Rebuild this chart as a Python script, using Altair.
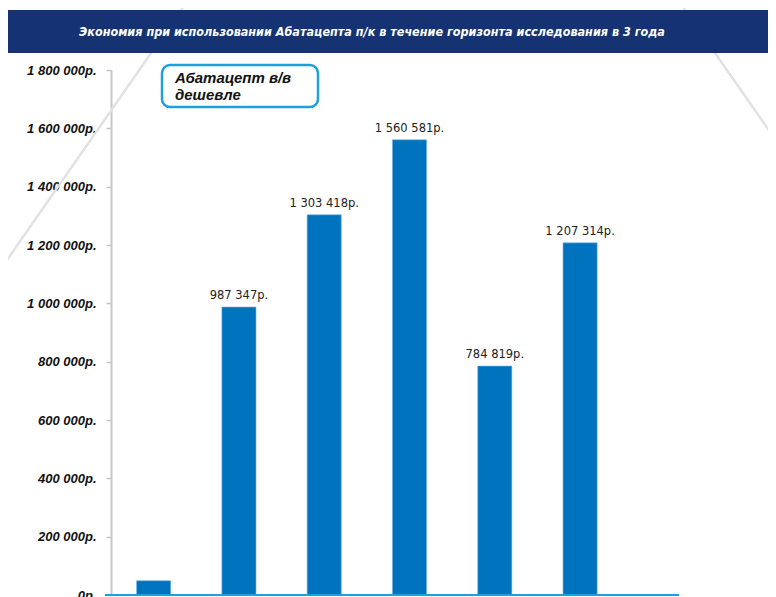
import altair as alt
import pandas as pd

# ---- data ----
categories = ["1", "2", "3", "4", "5", "6", "7"]
bar_cats = ["1", "2", "3", "4", "5", "6"]
savings = [49000, 987347, 1303418, 1560581, 784819, 1207314]
show_label = [False, True, True, True, True, True]
y_ticks = [0, 200000, 400000, 600000, 800000, 1000000, 1200000, 1400000, 1600000, 1800000]
title_text = "Экономия при использовании Абатацепта п/к в течение горизонта исследования в 3 года"
box_lines = ["Абатацепт в/в", "дешевле"]

BAR = "#0073BE"
NAVY = "#153372"
LIGHTBLUE = "#1EA0DC"

df = pd.DataFrame({"cat": bar_cats, "value": savings, "show": show_label})
one = pd.DataFrame({"k": [0]})

W, H = 597, 525

xscale = alt.Scale(domain=categories, paddingInner=0.6, paddingOuter=0.3)
yscale = alt.Scale(domain=[0, 1800000], nice=False)

# decorative background diagonals
diag1 = alt.Chart(one).mark_rule(color="#e2e2e2", strokeWidth=2.5).encode(
    x=alt.value(77), y=alt.value(-70), x2=alt.value(-120), y2=alt.value(213)
)
diag2 = alt.Chart(one).mark_rule(color="#e2e2e2", strokeWidth=2.5).encode(
    x=alt.value(567), y=alt.value(-70), x2=alt.value(680), y2=alt.value(92)
)

banner = alt.Chart(one).mark_rect(color=NAVY).encode(
    x=alt.value(-104), x2=alt.value(680), y=alt.value(-60), y2=alt.value(-17)
)
title = alt.Chart(one).mark_text(
    text=title_text, color="white", font="Liberation Sans Narrow, DejaVu Sans Condensed, sans-serif",
    fontSize=12.5, fontWeight="bold", fontStyle="italic", align="center", baseline="middle"
).encode(x=alt.value(261), y=alt.value(-38))

bars = alt.Chart(df).mark_bar(color=BAR, stroke="#6fb3e3", strokeWidth=0.6).encode(
    x=alt.X("cat:N", scale=xscale, sort=None, axis=None),
    y=alt.Y(
        "value:Q",
        scale=yscale,
        title=None,
        axis=alt.Axis(
            values=y_ticks,
            labelExpr="replace(format(datum.value, ','), regexp(',', 'g'), ' ') + 'р.'",
            labelFont="Liberation Sans",
            labelFontSize=13,
            labelFontWeight="bold",
            labelFontStyle="italic",
            labelColor="#111111",
            labelPadding=10,
            tickSize=5,
            tickColor="#c4c4c4",
            tickWidth=1.5,
            domainColor="#c8c8c8",
            domainWidth=2,
            grid=False,
        ),
    ),
)

labels = (
    alt.Chart(df)
    .transform_filter("datum.show")
    .transform_calculate(lbl="replace(format(datum.value, ','), regexp(',', 'g'), ' ') + 'р.'")
    .mark_text(font="DejaVu Sans", fontSize=11.5, color="#222222", baseline="bottom", dy=-6)
    .encode(
        x=alt.X("cat:N", scale=xscale, sort=None, axis=None),
        y=alt.Y("value:Q", scale=yscale),
        text="lbl:N",
    )
)

xline = alt.Chart(one).mark_rule(color=LIGHTBLUE, strokeWidth=2).encode(
    x=alt.value(-6), x2=alt.value(568), y=alt.datum(0, scale=yscale)
)

box = alt.Chart(one).mark_rect(
    fill="white", stroke=LIGHTBLUE, strokeWidth=2.5, cornerRadius=8
).encode(x=alt.value(51), x2=alt.value(207), y=alt.value(-5), y2=alt.value(37))
box_text = alt.Chart(one).mark_text(
    text=box_lines, font="Liberation Sans", fontSize=15, fontWeight="bold", fontStyle="italic",
    color="#111111", align="left", baseline="middle", lineHeight=17
).encode(x=alt.value(64), y=alt.value(8))

chart = alt.layer(diag1, diag2, banner, title, bars, labels, xline, box, box_text).properties(
    width=W,
    height=H,
    padding={"left": 103, "top": 62, "right": 60, "bottom": 10},
    autosize=alt.AutoSizeParams(type="none"),
    background="white",
).configure_view(strokeWidth=0, stroke="transparent")

chart.save("out.html", embed_options={"renderer": "svg", "actions": False})
